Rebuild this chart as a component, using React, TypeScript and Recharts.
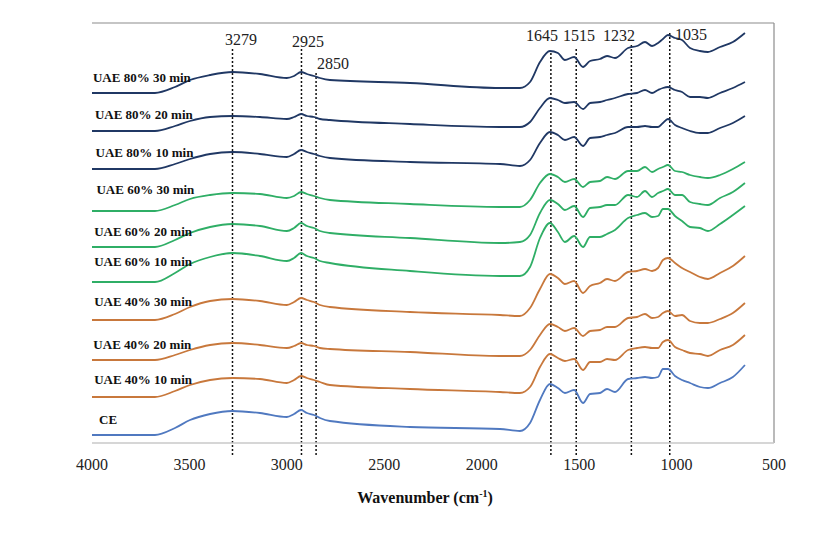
import { LineChart, Line, XAxis, YAxis, ReferenceLine, ReferenceDot } from 'recharts';

// FTIR spectra, stacked with a vertical offset per sample (absorbance, a.u.)
const wavenumbers = [
  4000, 3677, 3574, 3497, 3394, 3279, 3138, 3000, 2963, 2927, 2897, 2861, 2830, 2779, 2368,
  1906, 1804, 1752, 1701, 1650, 1609, 1573, 1526, 1480, 1444, 1393, 1357, 1316, 1249, 1203,
  1162, 1126, 1095, 1070, 1044, 1008, 972, 931, 880, 839, 777, 711, 649,
];

const uae80_30 = [3.50, 3.50, 3.56, 3.63, 3.68, 3.71, 3.69, 3.65, 3.67, 3.71, 3.69, 3.67, 3.65, 3.63, 3.60, 3.55, 3.55, 3.61, 3.81, 3.92, 3.90, 3.83, 3.86, 3.76, 3.82, 3.84, 3.87, 3.85, 3.95, 3.97, 4.01, 3.97, 4.00, 4.04, 4.08, 4.05, 4.03, 3.95, 3.92, 3.91, 3.96, 4.01, 4.10];
const uae80_20 = [3.12, 3.12, 3.17, 3.22, 3.26, 3.27, 3.26, 3.24, 3.26, 3.29, 3.27, 3.26, 3.24, 3.23, 3.19, 3.16, 3.16, 3.21, 3.35, 3.45, 3.43, 3.40, 3.41, 3.34, 3.40, 3.41, 3.43, 3.45, 3.49, 3.50, 3.53, 3.50, 3.53, 3.55, 3.56, 3.53, 3.51, 3.46, 3.46, 3.45, 3.50, 3.55, 3.61];
const uae80_10 = [2.74, 2.74, 2.79, 2.84, 2.89, 2.91, 2.89, 2.86, 2.89, 2.93, 2.91, 2.89, 2.87, 2.85, 2.81, 2.79, 2.77, 2.83, 3.00, 3.11, 3.08, 3.03, 3.06, 2.97, 3.05, 3.06, 3.08, 3.10, 3.16, 3.16, 3.17, 3.16, 3.16, 3.20, 3.24, 3.18, 3.15, 3.12, 3.10, 3.10, 3.15, 3.20, 3.27];
const uae60_30 = [2.32, 2.32, 2.38, 2.44, 2.48, 2.50, 2.49, 2.45, 2.47, 2.51, 2.49, 2.47, 2.45, 2.43, 2.39, 2.36, 2.36, 2.43, 2.60, 2.69, 2.66, 2.61, 2.64, 2.56, 2.61, 2.62, 2.66, 2.64, 2.72, 2.72, 2.76, 2.71, 2.74, 2.76, 2.78, 2.72, 2.71, 2.68, 2.66, 2.65, 2.68, 2.74, 2.81];
const uae60_20 = [1.96, 1.96, 2.03, 2.10, 2.16, 2.19, 2.17, 2.12, 2.15, 2.20, 2.17, 2.15, 2.12, 2.10, 2.05, 2.00, 2.01, 2.08, 2.30, 2.43, 2.39, 2.33, 2.37, 2.26, 2.35, 2.36, 2.38, 2.38, 2.48, 2.46, 2.52, 2.46, 2.50, 2.52, 2.54, 2.48, 2.48, 2.41, 2.39, 2.38, 2.45, 2.51, 2.60];
const uae60_10 = [1.61, 1.61, 1.70, 1.79, 1.86, 1.90, 1.87, 1.82, 1.85, 1.90, 1.87, 1.85, 1.82, 1.80, 1.72, 1.67, 1.67, 1.76, 2.05, 2.20, 2.11, 2.01, 2.07, 1.96, 2.06, 2.06, 2.09, 2.13, 2.25, 2.28, 2.30, 2.26, 2.27, 2.34, 2.34, 2.27, 2.22, 2.16, 2.15, 2.12, 2.19, 2.28, 2.37];
const uae40_30 = [1.23, 1.23, 1.29, 1.36, 1.42, 1.44, 1.42, 1.38, 1.41, 1.45, 1.43, 1.41, 1.38, 1.36, 1.31, 1.28, 1.27, 1.35, 1.54, 1.69, 1.65, 1.59, 1.62, 1.50, 1.57, 1.60, 1.64, 1.62, 1.71, 1.72, 1.74, 1.72, 1.75, 1.83, 1.85, 1.80, 1.75, 1.71, 1.66, 1.64, 1.70, 1.77, 1.87];
const uae40_20 = [0.83, 0.83, 0.88, 0.93, 0.98, 1.00, 0.98, 0.95, 0.97, 1.00, 0.98, 0.97, 0.95, 0.94, 0.91, 0.87, 0.87, 0.93, 1.08, 1.19, 1.16, 1.12, 1.15, 1.07, 1.12, 1.13, 1.16, 1.16, 1.25, 1.26, 1.29, 1.25, 1.26, 1.30, 1.32, 1.27, 1.28, 1.22, 1.20, 1.20, 1.24, 1.30, 1.40];
const uae40_10 = [0.46, 0.46, 0.52, 0.58, 0.63, 0.65, 0.64, 0.60, 0.63, 0.67, 0.65, 0.63, 0.61, 0.58, 0.54, 0.51, 0.50, 0.56, 0.76, 0.89, 0.85, 0.82, 0.84, 0.73, 0.81, 0.81, 0.84, 0.83, 0.93, 0.95, 0.96, 0.95, 0.95, 1.01, 1.03, 0.96, 0.93, 0.90, 0.89, 0.87, 0.93, 0.98, 1.08];
const ce = [0.08, 0.08, 0.15, 0.23, 0.29, 0.32, 0.30, 0.26, 0.29, 0.33, 0.30, 0.28, 0.25, 0.22, 0.16, 0.14, 0.12, 0.20, 0.43, 0.59, 0.55, 0.50, 0.53, 0.40, 0.49, 0.50, 0.54, 0.51, 0.64, 0.65, 0.66, 0.65, 0.66, 0.74, 0.74, 0.67, 0.63, 0.60, 0.56, 0.55, 0.60, 0.66, 0.78];

const seriesNames = ['UAE 80% 30 min', 'UAE 80% 20 min', 'UAE 80% 10 min', 'UAE 60% 30 min', 'UAE 60% 20 min', 'UAE 60% 10 min', 'UAE 40% 30 min', 'UAE 40% 20 min', 'UAE 40% 10 min', 'CE'];
const seriesValues = [uae80_30, uae80_20, uae80_10, uae60_30, uae60_20, uae60_10, uae40_30, uae40_20, uae40_10, ce];
const seriesColors = ['#203864', '#203864', '#203864', '#2fae66', '#2fae66', '#2fae66', '#c8783c', '#c8783c', '#c8783c', '#5079c0'];
// where each sample name sits (wavenumber, absorbance)
const nameX = [3995, 3985, 3982, 3977, 3989, 3989, 3989, 3993, 3989, 3964];
const nameY = [3.66, 3.29, 2.91, 2.54, 2.12, 1.82, 1.42, 0.99, 0.64, 0.24];

// marked bands
const peakWavenumbers = [3279, 2925, 2850, 1645, 1515, 1232, 1035];
const peakLineTop = [3.95, 3.95, 3.70, 3.91, 3.96, 4.00, 4.11];
const peakLabelX = [3235, 2892, 2763, 1691, 1501, 1296, 926];
const peakLabelY = [4.04, 4.02, 3.80, 4.08, 4.08, 4.08, 4.09];

const xTicks = [4000, 3500, 3000, 2500, 2000, 1500, 1000, 500];

const serif = '"Liberation Serif", "Times New Roman", serif';

const data = wavenumbers.map((w, i) => {
  const row: Record<string, number> = { w };
  seriesValues.forEach((vals, s) => {
    row[`s${s}`] = vals[i];
  });
  return row;
});

const XTitle = ({ viewBox }: any) => (
  <text x={viewBox.x + viewBox.width / 2 - 8} y={viewBox.y + 54} dy="0.35em" textAnchor="middle"
    fontFamily={serif} fontSize={16} fontWeight="bold" fill="#111">
    <tspan>Wavenumber (cm</tspan>
    <tspan dy={-6} fontSize={10}>-1</tspan>
    <tspan dy={6}>)</tspan>
  </text>
);

const YTitle = ({ viewBox }: any) => {
  const x = viewBox.x - 29;
  const y = viewBox.y + viewBox.height / 2 + 9;
  return (
    <text x={x} y={y} dy="0.35em" textAnchor="middle" transform={`rotate(-90, ${x}, ${y})`}
      fontFamily={serif} fontSize={16} fontWeight="bold" fill="#111">
      Absorbance
    </text>
  );
};

export default function App() {
  return (
    <div style={{ width: 832, height: 553, background: '#fff' }}>
      <style>{'body { margin: 0; }'}</style>
      <LineChart width={832} height={553} data={data} margin={{ top: 23, right: 58, bottom: 80, left: 92 }}>
        <XAxis
          dataKey="w"
          type="number"
          domain={[500, 4000]}
          reversed
          ticks={xTicks}
          interval={0}
          allowDataOverflow
          height={30}
          tickLine={false}
          tickMargin={10}
          axisLine={{ stroke: '#c8c8c8', strokeWidth: 1.5 }}
          tick={{ fontSize: 16, fill: '#222', fontFamily: serif }}
          label={XTitle}
        />
        <YAxis
          type="number"
          domain={[0, 4.2]}
          allowDataOverflow
          width={0}
          tick={false}
          tickLine={false}
          axisLine={{ stroke: '#111', strokeWidth: 1.5 }}
          label={YTitle}
        />
        <ReferenceLine y={4.2} stroke="#8c8c8c" strokeWidth={1.2} ifOverflow="visible" />
        <ReferenceLine x={500} stroke="#8c8c8c" strokeWidth={1.2} ifOverflow="visible" />
        {peakWavenumbers.map((w, i) => (
          <ReferenceLine
            key={`pl${w}`}
            segment={[{ x: w, y: -0.12 }, { x: w, y: peakLineTop[i] }]}
            stroke="#111"
            strokeWidth={1.5}
            strokeDasharray="2 2"
            ifOverflow="visible"
          />
        ))}
        {seriesNames.map((name, s) => (
          <Line
            key={name}
            type="monotone"
            dataKey={`s${s}`}
            name={name}
            stroke={seriesColors[s]}
            strokeWidth={1.8}
            dot={false}
            isAnimationActive={false}
          />
        ))}
        {peakWavenumbers.map((w, i) => (
          <ReferenceDot
            key={`pt${w}`}
            x={peakLabelX[i]}
            y={peakLabelY[i]}
            r={0}
            fill="none"
            stroke="none"
            ifOverflow="visible"
            label={{ value: String(w), position: 'center', fontSize: 16, fill: '#222', fontFamily: serif }}
          />
        ))}
        {seriesNames.map((name, s) => (
          <ReferenceDot
            key={`nm${name}`}
            x={nameX[s]}
            y={nameY[s]}
            r={0}
            fill="none"
            stroke="none"
            ifOverflow="visible"
            label={{ value: name, position: 'right', offset: 0, fontSize: 13, fontWeight: 'bold', fill: '#111', fontFamily: serif }}
          />
        ))}
      </LineChart>
    </div>
  );
}
